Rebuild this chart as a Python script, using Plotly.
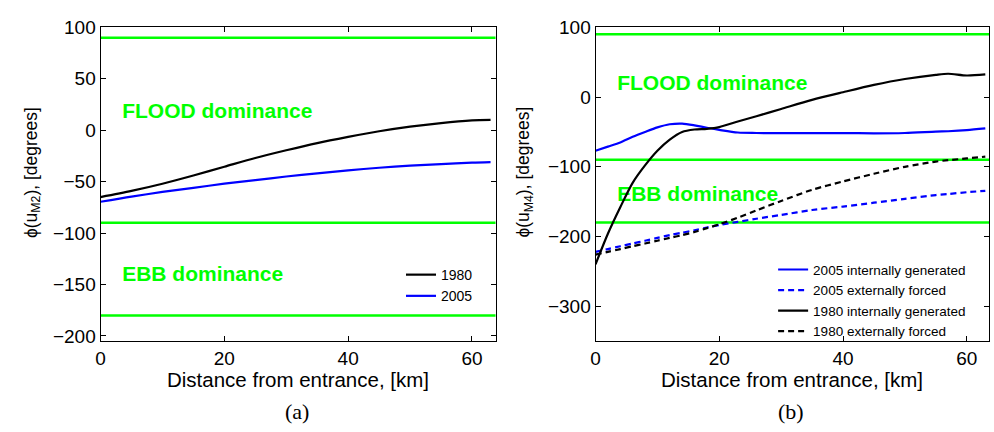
import plotly.graph_objects as go

# ---- M2 phase along the estuary (panel a) ----
m2_km = [0, 5, 10, 15, 20, 25, 30, 35, 40, 45, 50, 55, 60, 63]
m2_1980 = [-65, -59, -52, -44, -35.5, -27, -19.5, -12.5, -6.5, -1, 3.5, 7, 9.5, 10]
m2_2005 = [-69.5, -64.5, -60, -56, -52, -48.5, -45, -42, -39, -36.5, -34.5, -33, -31.5, -31]

# ---- M4 phase along the estuary (panel b) ----
m4_km = [0, 2, 4, 6, 8, 10, 12, 14, 16, 18, 20, 23, 26, 30, 35, 40, 45, 50, 55, 57, 60, 63]
m4_2005_int = [-77, -71, -65, -57, -50, -43.5, -39, -38, -40.5, -44, -47, -50.8, -51.5, -51.8,
               -51.6, -51.6, -52, -51.5, -49.5, -49, -47.5, -45]
m4_2005_ext = [-222, -218, -214, -210, -206, -202, -198, -194.5, -191, -187, -183.5, -179, -174.5,
               -169, -162, -157, -151.5, -146, -140.5, -139, -136.5, -134.5]
m4_1980_int = [-240, -196, -158, -123, -98, -77, -61, -50, -46.5, -45.5, -43, -35, -27.5, -17,
               -4, 7, 17.5, 26, 32, 33.5, 31, 32.5]
m4_1980_ext = [-226, -222, -218, -214, -210, -206, -202, -198, -193.5, -188, -182.5, -173, -162.5,
               -149, -133, -121, -110, -100, -92.5, -90.5, -88, -85.5]

# Dominance boundaries (degrees) and region labels
boundaries = [90, -90, -180]
region_labels = ["FLOOD dominance", "EBB dominance"]
region_label_x = [3.5, 3.5]
region_label_y = [17, -141]

GREEN = "#00FF00"
BLUE = "#0000FF"
BLACK = "#000000"
SANS = "Liberation Sans, Arial, sans-serif"
LW = 2.2

fig = go.Figure()

# Region labels sit underneath the curves
for xa, ya in (("x", "y"), ("x2", "y2")):
    fig.add_trace(go.Scatter(
        x=region_label_x, y=region_label_y, text=region_labels, mode="text",
        textposition="middle right", cliponaxis=False,
        textfont=dict(family=SANS, size=21, color=GREEN, weight="bold"),
        showlegend=False, hoverinfo="skip", xaxis=xa, yaxis=ya))

# Panel (a)
fig.add_trace(go.Scatter(x=m2_km, y=m2_1980, mode="lines", name="1980",
                         line=dict(color=BLACK, width=LW, shape="spline", smoothing=0.8),
                         xaxis="x", yaxis="y", legend="legend"))
fig.add_trace(go.Scatter(x=m2_km, y=m2_2005, mode="lines", name="2005",
                         line=dict(color=BLUE, width=LW, shape="spline", smoothing=0.8),
                         xaxis="x", yaxis="y", legend="legend"))

# Panel (b)
dash = "6px,4px"
fig.add_trace(go.Scatter(x=m4_km, y=m4_2005_int, mode="lines", name="2005 internally generated",
                         line=dict(color=BLUE, width=LW, shape="spline", smoothing=0.8),
                         xaxis="x2", yaxis="y2", legend="legend2"))
fig.add_trace(go.Scatter(x=m4_km, y=m4_2005_ext, mode="lines", name="2005 externally forced",
                         line=dict(color=BLUE, width=LW, dash=dash, shape="spline", smoothing=0.8),
                         xaxis="x2", yaxis="y2", legend="legend2"))
fig.add_trace(go.Scatter(x=m4_km, y=m4_1980_int, mode="lines", name="1980 internally generated",
                         line=dict(color=BLACK, width=LW, shape="spline", smoothing=0.8),
                         xaxis="x2", yaxis="y2", legend="legend2"))
fig.add_trace(go.Scatter(x=m4_km, y=m4_1980_ext, mode="lines", name="1980 externally forced",
                         line=dict(color=BLACK, width=LW, dash=dash, shape="spline", smoothing=0.8),
                         xaxis="x2", yaxis="y2", legend="legend2"))

# Boundary lines across both panels
for xa, ya in (("x", "y"), ("x2", "y2")):
    for b in boundaries:
        fig.add_shape(type="line", xref=f"{xa} domain", yref=ya, x0=0, x1=1, y0=b, y1=b,
                      line=dict(color=GREEN, width=2.5), layer="below")

axis_common = dict(showline=True, linecolor=BLACK, linewidth=1, mirror="ticks",
                   ticks="inside", ticklen=5, tickcolor=BLACK, tickwidth=1,
                   showgrid=False, zeroline=False,
                   tickfont=dict(family=SANS, size=19, color=BLACK))

y_bottom, y_top = 1 - 343 / 432, 1 - 18 / 432

fig.update_layout(
    width=994, height=432, autosize=False,
    margin=dict(l=0, r=0, t=0, b=0),
    paper_bgcolor="white", plot_bgcolor="white",
    xaxis=dict(domain=[96 / 994, 493 / 994], range=[0, 63.8], tickvals=[0, 20, 40, 60],
               anchor="y", **axis_common),
    yaxis=dict(domain=[y_bottom, y_top], range=[-205, 100],
               tickvals=[-200, -150, -100, -50, 0, 50, 100], anchor="x", **axis_common),
    xaxis2=dict(domain=[593.5 / 994, 989 / 994], range=[0, 63.6], tickvals=[0, 20, 40, 60],
                anchor="y2", **axis_common),
    yaxis2=dict(domain=[y_bottom, y_top], range=[-350, 100],
                tickvals=[-300, -200, -100, 0, 100], anchor="x2", **axis_common),
    legend=dict(x=398 / 994, y=1 - 258 / 432, xanchor="left", yanchor="top",
                bgcolor="rgba(0,0,0,0)", borderwidth=0, tracegroupgap=0,
                font=dict(family=SANS, size=14, color=BLACK)),
    legend2=dict(x=772 / 994, y=1 - 253 / 432, xanchor="left", yanchor="top",
                 bgcolor="rgba(0,0,0,0)", borderwidth=0, tracegroupgap=0,
                 font=dict(family=SANS, size=13.5, color=BLACK)),
    showlegend=True,
)

title_font = dict(family=SANS, size=20.5, color=BLACK)
ytitle_font = dict(family=SANS, size=17.5, color=BLACK)
annotations = [
    dict(text="Distance from entrance, [km]", xref="x domain", yref="paper", x=0.5,
         y=1 - 383 / 432, xanchor="center", yanchor="middle", showarrow=False, font=title_font),
    dict(text="Distance from entrance, [km]", xref="x2 domain", yref="paper", x=0.5,
         y=1 - 383 / 432, xanchor="center", yanchor="middle", showarrow=False, font=title_font),
    dict(text="ϕ(u<sub>M2</sub>), [degrees]", xref="paper", yref="paper", x=27 / 994,
         y=1 - 168 / 432, xanchor="center", yanchor="middle", textangle=-90,
         showarrow=False, font=ytitle_font),
    dict(text="ϕ(u<sub>M4</sub>), [degrees]", xref="paper", yref="paper", x=522 / 994,
         y=1 - 168 / 432, xanchor="center", yanchor="middle", textangle=-90,
         showarrow=False, font=ytitle_font),
    dict(text="(a)", xref="paper", yref="paper", x=293 / 994, y=1 - 416 / 432,
         xanchor="center", yanchor="middle", showarrow=False,
         font=dict(family="Liberation Serif, Times New Roman, serif", size=22, color=BLACK)),
    dict(text="(b)", xref="paper", yref="paper", x=790 / 994, y=1 - 416 / 432,
         xanchor="center", yanchor="middle", showarrow=False,
         font=dict(family="Liberation Serif, Times New Roman, serif", size=22, color=BLACK)),
]
fig.update_layout(annotations=annotations)

fig.write_html("out.html")
